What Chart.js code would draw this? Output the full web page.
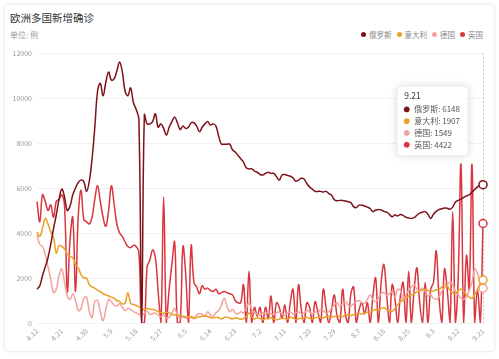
<!DOCTYPE html>
<html>
<head>
<meta charset="utf-8">
<script src="https://cdn.jsdelivr.net/npm/chart.js@4.4.1/dist/chart.umd.min.js"></script>
<style>
  html, body { margin: 0; padding: 0; background: #fff; }
  body { width: 499px; height: 359px; position: relative; overflow: hidden;
         font-family: "Noto Sans CJK SC", "Microsoft YaHei", sans-serif; }
  .card { position: absolute; left: 4px; top: 4px; width: 489px; height: 346px;
          border: 1px solid #eeeeee; border-radius: 4px; box-shadow: 0 0 3px rgba(0,0,0,0.06); }
  .title { position: absolute; left: 10px; top: 10px; font-size: 10.5px; color: #333; }
  .sub { position: absolute; left: 10px; top: 29px; font-size: 8px; color: #999; }
  .legend { position: absolute; right: 16px; top: 29px; font-size: 7.5px; color: #888;
            display: flex; align-items: center; }
  .legend .dot { width: 5px; height: 5px; border-radius: 50%; display: inline-block; margin: 0 3px 0 5px; }
  canvas { position: absolute; left: 0; top: 0; }
</style>
</head>
<body>
<div class="card"></div>
<div class="title">欧洲多国新增确诊</div>
<div class="sub">单位: 例</div>
<div class="legend" id="legend"></div>
<canvas id="chart" width="499" height="359"></canvas>
<script>
// 每日新增确诊 (4.12 ~ 9.21)
const russia = [
  1500, 1650, 2100, 2500, 2900, 3500, 4200, 4800, 5500, 5950,
  5600, 5000, 5200, 5700, 6000, 6250, 6350, 6280, 5850, 6300,
  7300, 8700, 10300, 10650, 10100, 10700, 11150, 10800, 10850, 11200,
  11600, 11150, 10300, 10100, 10450, 9800, 9500, 9050, 0, 9250,
  8850, 8850, 8950, 9300, 8700, 8850, 8650, 8350, 8700, 8950,
  9150, 8900, 8600, 8750, 8650, 8700, 8900, 8900, 8750, 8500,
  8700, 8850, 8950, 8800, 8850, 8750, 8300, 7950, 7950, 7950,
  7950, 7700, 7600, 7450, 7300, 7150, 6900, 6850, 6850, 6750,
  6700, 6600, 6580, 6650, 6700, 6650, 6650, 6500, 6350, 6580,
  6600, 6560, 6520, 6450, 6300, 6350, 6430, 6400, 6200, 6050,
  5950, 5850, 5850, 5850, 5820, 5850, 5750, 5680, 5480, 5430,
  5450, 5440, 5420, 5390, 5350, 5170, 5130, 5240, 5230, 5200,
  5150, 5090, 4950, 5020, 5050, 5020, 4960, 4930, 4830, 4720,
  4800, 4760, 4820, 4780, 4700, 4670, 4650, 4680, 4790, 4880,
  4920, 4950, 4830, 4650, 4830, 4960, 5040, 5080, 5110, 5100,
  5060, 5150, 5380, 5450, 5500, 5580, 5650, 5700, 5820, 5930,
  6050, 6120, 6148
];
const italy = [
  4050, 3850, 4200, 4650, 4400, 4050, 3800, 3100, 3450, 3400,
  3300, 3050, 2950, 2900, 2600, 2450, 2150, 2000, 2000, 1700,
  1600, 1550, 1450, 1400, 1300, 1250, 1200, 1150, 1100, 1000,
  950, 850, 880, 1350, 880, 820, 780, 720, 650, 580,
  650, 620, 600, 580, 500, 470, 430, 480, 450, 390,
  350, 380, 330, 300, 280, 280, 290, 250, 240, 280,
  300, 320, 280, 240, 220, 260, 230, 180, 250, 260,
  220, 180, 230, 210, 170, 200, 280, 450, 280, 180,
  230, 200, 150, 200, 190, 230, 170, 140, 180, 220,
  200, 170, 250, 220, 160, 190, 210, 230, 250, 200,
  180, 230, 250, 250, 230, 280, 300, 270, 290, 320,
  300, 280, 350, 360, 330, 380, 400, 420, 400, 450,
  480, 500, 550, 600, 580, 640, 680, 600, 550, 520,
  650, 800, 950, 1000, 1100, 1200, 1250, 1300, 1380, 1420,
  1470, 1500, 1450, 1400, 1420, 1480, 1500, 1600, 1700, 1650,
  1450, 1350, 1300, 1450, 1500, 1400, 1250, 1150, 1100, 1250,
  1500, 1750, 1907
];
const germany = [
  3900, 3500, 3400, 3050, 2500, 1950, 1350, 1500, 2100, 2400,
  1800, 1200, 1050, 1300, 1000, 550, 650, 1100, 1150, 500,
  250, 950, 1000, 500, 100, 600, 1050, 950, 800, 750,
  850, 700, 550, 650, 600, 520, 450, 380, 350, 430,
  520, 380, 420, 440, 350, 280, 350, 220, 250, 450,
  650, 330, 200, 280, 200, 280, 230, 200, 350, 420,
  380, 300, 500, 350, 300, 450, 550, 800, 1100, 750,
  500, 600, 450, 400, 500, 450, 650, 900, 600, 450,
  400, 350, 450, 400, 500, 420, 380, 450, 500, 400,
  350, 450, 500, 400, 450, 500, 400, 450, 550, 500,
  400, 500, 450, 600, 550, 450, 500, 650, 800, 900,
  750, 850, 950, 800, 750, 850, 950, 1000, 900, 880,
  1050, 1250, 1050, 950, 1100, 1300, 1350, 1250, 1300, 1400,
  1150, 1500, 1450, 1000, 1250, 1450, 1600, 1700, 1500, 1450,
  1550, 1400, 1200, 1250, 1100, 1050, 1150, 1400, 1550, 1700,
  1800, 1700, 1400, 1250, 1100, 1050, 1200, 1450, 1800, 2400,
  2200, 1800, 1549
];
const uk = [
  5400, 4500, 5700, 5400, 5000, 5250, 4700, 5400, 5500, 5700,
  5200, 1400, 3700, 4700, 1400, 4800, 5900, 4600, 4500, 4400,
  4700, 5500, 6100, 5400, 4700, 4300, 5000, 6100, 5300, 4400,
  4000, 3850, 3600, 3400, 3350, 3450, 3400, 3150, 0, 0,
  2500, 2800, 3250, 2900, 1400, 0, 5600, 0, 1500, 2600,
  3600, 0, 0, 3400, 2200, 0, 3450, 1800, 1600, 1300,
  1650, 1500, 1550, 1450, 1400, 1500, 1300, 1350, 1400, 1350,
  1300, 1250, 1000, 900, 900, 1700, 0, 2300, 0, 700,
  300, 700, 0, 700, 200, 1200, 0, 900, 700, 200,
  800, 0, 900, 1500, 0, 1700, 600, 0, 900, 700,
  0, 950, 500, 0, 1500, 700, 0, 600, 1250, 300,
  0, 1500, 400, 0, 1300, 1600, 0, 600, 900, 400,
  900, 0, 1200, 2000, 0, 1800, 2600, 1300, 0, 1700,
  1100, 0, 1200, 1800, 0, 2300, 0, 1500, 2450, 900,
  0, 1800, 0, 1500, 1800, 3200, 1200, 0, 2400, 1500,
  0, 4950, 0, 2000, 7050, 0, 3000, 1500, 7050, 0,
  1500, 0, 4422
];

const seriesNames = ['俄罗斯', '意大利', '德国', '英国'];
const seriesColors = ['#7d1219', '#e9a126', '#f3a39e', '#d9363e'];
const seriesData = [russia, italy, germany, uk];

// 日期标签 4.12 ~ 9.21
const dates = [];
for (let d = new Date(2020, 3, 12); d <= new Date(2020, 8, 21); d.setDate(d.getDate() + 1)) {
  dates.push((d.getMonth() + 1) + '.' + d.getDate());
}

// 图例
const legendEl = document.getElementById('legend');
seriesNames.forEach((name, i) => {
  const dot = document.createElement('span');
  dot.className = 'dot';
  dot.style.background = seriesColors[i];
  legendEl.appendChild(dot);
  legendEl.appendChild(document.createTextNode(name));
});

Chart.defaults.font.family = '"Noto Sans CJK SC", "Microsoft YaHei", sans-serif';

// 提示框放在竖线左上方
Chart.Tooltip.positioners.leftTop = function (items) {
  if (!items.length) return false;
  return { x: items[0].element.x - 15, y: this.chart.chartArea.top + 68, xAlign: 'right', yAlign: 'center' };
};

// 悬停竖虚线
const hoverLine = {
  id: 'hoverLine',
  beforeDatasetsDraw(chart) {
    const active = chart.tooltip.getActiveElements();
    if (!active.length) return;
    const x = Math.round(active[0].element.x) + 0.5;
    const { top, bottom } = chart.chartArea;
    const ctx = chart.ctx;
    ctx.save();
    ctx.strokeStyle = '#c8c8c8';
    ctx.lineWidth = 1;
    ctx.setLineDash([2, 2]);
    ctx.beginPath();
    ctx.moveTo(x, top);
    ctx.lineTo(x, bottom);
    ctx.stroke();
    ctx.restore();
  }
};

// 提示框阴影
const tooltipShadow = {
  id: 'tooltipShadow',
  beforeTooltipDraw(chart, args) {
    const t = args.tooltip;
    const ctx = chart.ctx;
    ctx.save();
    ctx.shadowColor = 'rgba(0,0,0,0.16)';
    ctx.shadowBlur = 8;
    ctx.fillStyle = '#fff';
    ctx.beginPath();
    ctx.roundRect(t.x, t.y, t.width, t.height, 3);
    ctx.fill();
    ctx.restore();
  }
};

const chart = new Chart(document.getElementById('chart'), {
  type: 'line',
  data: {
    labels: dates,
    datasets: seriesData.map((data, i) => ({
      label: seriesNames[i],
      data: data,
      borderColor: seriesColors[i],
      backgroundColor: seriesColors[i],
      borderWidth: 1.5,
      tension: 0.4,
      pointRadius: 0,
      pointHoverRadius: 4,
      pointHoverBorderWidth: 1.5,
      pointHoverBackgroundColor: '#fff',
      pointHoverBorderColor: seriesColors[i],
      clip: { left: 2, top: 2, right: 8, bottom: 0 }
    }))
  },
  options: {
    responsive: false,
    animation: false,
    events: [],
    layout: { padding: { top: 53, right: 16, left: 0, bottom: 0 } },
    plugins: {
      legend: { display: false },
      title: { display: false },
      tooltip: {
        position: 'leftTop',
        backgroundColor: '#fff',
        borderColor: '#eeeeee',
        borderWidth: 1,
        cornerRadius: 3,
        caretSize: 0,
        caretPadding: 0,
        padding: { top: 4, bottom: 6, left: 7, right: 8 },
        titleColor: '#333',
        titleFont: { size: 8.5, weight: 'normal' },
        titleMarginBottom: 4,
        bodyColor: '#555',
        bodyFont: { size: 8 },
        bodySpacing: 2.2,
        usePointStyle: true,
        boxWidth: 5,
        boxHeight: 5,
        boxPadding: 3,
        callbacks: {
          label: (item) => item.dataset.label + ': ' + item.raw,
          labelColor: (item) => ({
            borderColor: seriesColors[item.datasetIndex],
            backgroundColor: seriesColors[item.datasetIndex]
          }),
          labelPointStyle: () => ({ pointStyle: 'circle', rotation: 0 })
        }
      }
    },
    scales: {
      x: {
        grid: { display: false, drawTicks: false },
        border: { display: false },
        afterFit: (s) => { s.height = 36; },
        ticks: {
          autoSkip: false,
          minRotation: 45,
          maxRotation: 45,
          padding: 4,
          color: '#999',
          font: { size: 7 },
          callback: (v, i) => (i % 9 === 0 ? dates[i] : null)
        }
      },
      y: {
        min: 0,
        max: 12000,
        grid: { color: '#f1f1f1', drawTicks: false },
        border: { display: false },
        afterFit: (s) => { s.width = 37; },
        ticks: { stepSize: 2000, padding: 5, color: '#999', font: { size: 7 }, callback: (v) => String(v) }
      }
    }
  },
  plugins: [hoverLine, tooltipShadow]
});

const last = dates.length - 1;
const active = seriesNames.map((_, i) => ({ datasetIndex: i, index: last }));
chart.setActiveElements(active);
chart.tooltip.setActiveElements(active, { x: 0, y: 0 });
chart.update();
</script>
</body>
</html>
